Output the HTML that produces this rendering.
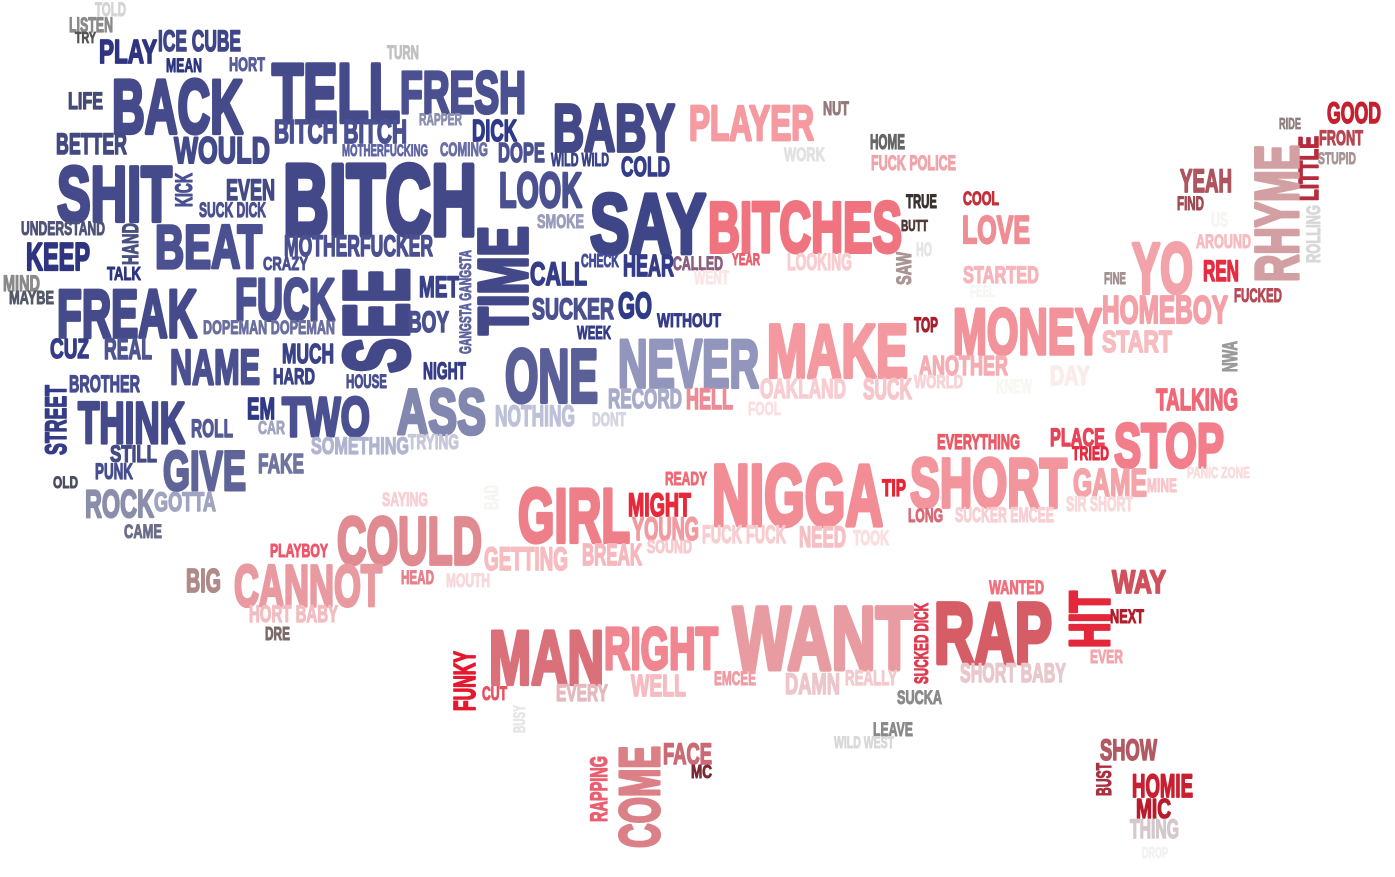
<!DOCTYPE html>
<html lang="en">
<head>
<meta charset="utf-8">
<title>Word cloud</title>
<style>
html,body{margin:0;padding:0;background:#fff;width:1395px;height:877px;overflow:hidden}
svg{display:block;filter:blur(.35px)}
text{font-family:"Liberation Sans Narrow","Liberation Sans",sans-serif;font-weight:700;fill:currentColor;stroke:currentColor;stroke-width:.055em;stroke-linejoin:round}
</style>
</head>
<body>
<svg width="1395" height="877" viewBox="0 0 1395 877" xmlns="http://www.w3.org/2000/svg">
<text x="95" y="16" font-size="19.5" textLength="31" lengthAdjust="spacingAndGlyphs" color="#d4d4d4">TOLD</text>
<text x="69" y="32" font-size="20.9" textLength="44" lengthAdjust="spacingAndGlyphs" color="#8a8a8a">LISTEN</text>
<text x="75" y="43" font-size="15.3" textLength="21" lengthAdjust="spacingAndGlyphs" color="#555555">TRY</text>
<text x="99" y="63" font-size="33.4" textLength="58" lengthAdjust="spacingAndGlyphs" color="#2f3580">PLAY</text>
<text x="158" y="51" font-size="29.2" textLength="83" lengthAdjust="spacingAndGlyphs" color="#3f4688">ICE CUBE</text>
<text x="166" y="72" font-size="19.5" textLength="36" lengthAdjust="spacingAndGlyphs" color="#2c3580">MEAN</text>
<text x="229" y="71" font-size="19.5" textLength="36" lengthAdjust="spacingAndGlyphs" color="#5a5f98">HORT</text>
<text x="68" y="109" font-size="23.6" textLength="35" lengthAdjust="spacingAndGlyphs" color="#454a78">LIFE</text>
<text x="112" y="133" font-size="76.5" textLength="131" lengthAdjust="spacingAndGlyphs" color="#454a8a">BACK</text>
<text x="272" y="122" font-size="83.4" textLength="128" lengthAdjust="spacingAndGlyphs" color="#454a8a">TELL</text>
<text x="274" y="143" font-size="33.4" textLength="133" lengthAdjust="spacingAndGlyphs" color="#4a5090">BITCH BITCH</text>
<text x="56" y="154" font-size="29.2" textLength="71" lengthAdjust="spacingAndGlyphs" color="#434a80">BETTER</text>
<text x="174" y="163" font-size="37.5" textLength="96" lengthAdjust="spacingAndGlyphs" color="#434a8a">WOULD</text>
<text x="57" y="221" font-size="77.8" textLength="115" lengthAdjust="spacingAndGlyphs" color="#454a8a">SHIT</text>
<text transform="translate(192 207) rotate(-90)" font-size="23.6" textLength="34" lengthAdjust="spacingAndGlyphs" color="#4a5090">KICK</text>
<text x="226" y="200" font-size="29.2" textLength="49" lengthAdjust="spacingAndGlyphs" color="#434a85">EVEN</text>
<text x="199" y="217" font-size="20.9" textLength="67" lengthAdjust="spacingAndGlyphs" color="#4a5090">SUCK DICK</text>
<text x="21" y="235" font-size="19.5" textLength="84" lengthAdjust="spacingAndGlyphs" color="#4f5478">UNDERSTAND</text>
<text transform="translate(138 265) rotate(-90)" font-size="22.2" textLength="42" lengthAdjust="spacingAndGlyphs" color="#4a5080">HAND</text>
<text x="155" y="268" font-size="61" textLength="107" lengthAdjust="spacingAndGlyphs" color="#4a5090">BEAT</text>
<text x="26" y="270" font-size="39" textLength="64" lengthAdjust="spacingAndGlyphs" color="#2f3580">KEEP</text>
<text x="263" y="270" font-size="18" textLength="45" lengthAdjust="spacingAndGlyphs" color="#4a5090">CRAZY</text>
<text x="283" y="235" font-size="101.5" textLength="194" lengthAdjust="spacingAndGlyphs" color="#434888">BITCH</text>
<text x="284" y="256" font-size="29.2" textLength="149" lengthAdjust="spacingAndGlyphs" color="#4a5090">MOTHERFUCKER</text>
<text x="107" y="280" font-size="18" textLength="34" lengthAdjust="spacingAndGlyphs" color="#2f3580">TALK</text>
<text x="3" y="291" font-size="22.2" textLength="37" lengthAdjust="spacingAndGlyphs" color="#8a8a8a">MIND</text>
<text x="9" y="304" font-size="18" textLength="45" lengthAdjust="spacingAndGlyphs" color="#555a68">MAYBE</text>
<text x="57" y="337" font-size="68" textLength="140" lengthAdjust="spacingAndGlyphs" color="#454a8a">FREAK</text>
<text x="235" y="320" font-size="59.8" textLength="100" lengthAdjust="spacingAndGlyphs" color="#4a5090">FUCK</text>
<text x="203" y="334" font-size="19.5" textLength="132" lengthAdjust="spacingAndGlyphs" color="#6a6fa0">DOPEMAN DOPEMAN</text>
<text x="50" y="358" font-size="27.8" textLength="39" lengthAdjust="spacingAndGlyphs" color="#353d88">CUZ</text>
<text x="104" y="359" font-size="29.2" textLength="48" lengthAdjust="spacingAndGlyphs" color="#4f5590">REAL</text>
<text x="170" y="384" font-size="48.7" textLength="90" lengthAdjust="spacingAndGlyphs" color="#4a5090">NAME</text>
<text x="282" y="363" font-size="27.8" textLength="52" lengthAdjust="spacingAndGlyphs" color="#3a4288">MUCH</text>
<text x="273" y="384" font-size="22.2" textLength="42" lengthAdjust="spacingAndGlyphs" color="#3a4288">HARD</text>
<text x="69" y="392" font-size="23.6" textLength="71" lengthAdjust="spacingAndGlyphs" color="#474d90">BROTHER</text>
<text transform="translate(66 455) rotate(-90)" font-size="29.2" textLength="70" lengthAdjust="spacingAndGlyphs" color="#353d88">STREET</text>
<text x="78" y="443" font-size="58.4" textLength="107" lengthAdjust="spacingAndGlyphs" color="#454a8a">THINK</text>
<text x="247" y="419" font-size="30.6" textLength="28" lengthAdjust="spacingAndGlyphs" color="#2f3a85">EM</text>
<text x="282" y="436" font-size="55.6" textLength="88" lengthAdjust="spacingAndGlyphs" color="#4a5090">TWO</text>
<text x="191" y="437" font-size="25" textLength="42" lengthAdjust="spacingAndGlyphs" color="#555a95">ROLL</text>
<text x="258" y="434" font-size="18" textLength="27" lengthAdjust="spacingAndGlyphs" color="#a0a4c0">CAR</text>
<text x="311" y="454" font-size="23.6" textLength="98" lengthAdjust="spacingAndGlyphs" color="#b0b4d0">SOMETHING</text>
<text x="110" y="462" font-size="23.6" textLength="47" lengthAdjust="spacingAndGlyphs" color="#444a85">STILL</text>
<text x="163" y="490" font-size="55.6" textLength="83" lengthAdjust="spacingAndGlyphs" color="#5f6498">GIVE</text>
<text x="258" y="473" font-size="27.8" textLength="46" lengthAdjust="spacingAndGlyphs" color="#70749f">FAKE</text>
<text x="95" y="479" font-size="22.2" textLength="38" lengthAdjust="spacingAndGlyphs" color="#474d90">PUNK</text>
<text x="53" y="488" font-size="16.7" textLength="25" lengthAdjust="spacingAndGlyphs" color="#4a4e60">OLD</text>
<text x="85" y="517" font-size="39" textLength="69" lengthAdjust="spacingAndGlyphs" color="#8a8eaa">ROCK</text>
<text x="154" y="511" font-size="26.4" textLength="62" lengthAdjust="spacingAndGlyphs" color="#a0a4bf">GOTTA</text>
<text x="124" y="538" font-size="19.5" textLength="38" lengthAdjust="spacingAndGlyphs" color="#6a6e88">CAME</text>
<text x="387" y="59" font-size="19.5" textLength="32" lengthAdjust="spacingAndGlyphs" color="#c0c0c0">TURN</text>
<text x="400" y="113" font-size="59.8" textLength="126" lengthAdjust="spacingAndGlyphs" color="#4a5090">FRESH</text>
<text x="419" y="125" font-size="16.7" textLength="43" lengthAdjust="spacingAndGlyphs" color="#8a8eb0">RAPPER</text>
<text x="472" y="141" font-size="30.6" textLength="45" lengthAdjust="spacingAndGlyphs" color="#2f3a88">DICK</text>
<text x="342" y="156" font-size="16.7" textLength="86" lengthAdjust="spacingAndGlyphs" color="#5f64a5">MOTHERFUCKING</text>
<text x="440" y="156" font-size="19.5" textLength="48" lengthAdjust="spacingAndGlyphs" color="#6a6fa5">COMING</text>
<text x="498" y="162" font-size="27.8" textLength="47" lengthAdjust="spacingAndGlyphs" color="#4a5090">DOPE</text>
<text x="553" y="151" font-size="66.7" textLength="122" lengthAdjust="spacingAndGlyphs" color="#434888">BABY</text>
<text x="551" y="166" font-size="18" textLength="58" lengthAdjust="spacingAndGlyphs" color="#3a4288">WILD WILD</text>
<text x="621" y="176" font-size="27.8" textLength="49" lengthAdjust="spacingAndGlyphs" color="#353d88">COLD</text>
<text x="499" y="207" font-size="48.7" textLength="83" lengthAdjust="spacingAndGlyphs" color="#4a5090">LOOK</text>
<text x="537" y="228" font-size="19.5" textLength="47" lengthAdjust="spacingAndGlyphs" color="#9a9ebc">SMOKE</text>
<text x="590" y="253" font-size="84.8" textLength="116" lengthAdjust="spacingAndGlyphs" color="#3f4688">SAY</text>
<text transform="translate(527 335) rotate(-90)" font-size="69.5" textLength="109" lengthAdjust="spacingAndGlyphs" color="#434888">TIME</text>
<text transform="translate(408 373) rotate(-90)" font-size="91.7" textLength="105" lengthAdjust="spacingAndGlyphs" color="#434888">SEE</text>
<text x="419" y="297" font-size="29.2" textLength="40" lengthAdjust="spacingAndGlyphs" color="#3a4288">MET</text>
<text transform="translate(471 354) rotate(-90)" font-size="16.7" textLength="104" lengthAdjust="spacingAndGlyphs" color="#5f64a0">GANGSTA GANGSTA</text>
<text x="408" y="332" font-size="29.2" textLength="41" lengthAdjust="spacingAndGlyphs" color="#4a5090">BOY</text>
<text x="530" y="285" font-size="32" textLength="57" lengthAdjust="spacingAndGlyphs" color="#353d88">CALL</text>
<text x="581" y="267" font-size="18" textLength="38" lengthAdjust="spacingAndGlyphs" color="#454d98">CHECK</text>
<text x="623" y="276" font-size="30.6" textLength="51" lengthAdjust="spacingAndGlyphs" color="#353d88">HEAR</text>
<text x="532" y="319" font-size="29.2" textLength="82" lengthAdjust="spacingAndGlyphs" color="#4a5090">SUCKER</text>
<text x="618" y="318" font-size="36" textLength="34" lengthAdjust="spacingAndGlyphs" color="#2f3a88">GO</text>
<text x="657" y="327" font-size="19.5" textLength="64" lengthAdjust="spacingAndGlyphs" color="#353d88">WITHOUT</text>
<text x="577" y="339" font-size="18" textLength="34" lengthAdjust="spacingAndGlyphs" color="#353d88">WEEK</text>
<text x="423" y="379" font-size="23.6" textLength="43" lengthAdjust="spacingAndGlyphs" color="#353d88">NIGHT</text>
<text x="346" y="388" font-size="19.5" textLength="41" lengthAdjust="spacingAndGlyphs" color="#4a5090">HOUSE</text>
<text x="505" y="402" font-size="75" textLength="93" lengthAdjust="spacingAndGlyphs" color="#5a5f98">ONE</text>
<text x="618" y="387" font-size="68" textLength="141" lengthAdjust="spacingAndGlyphs" color="#9296bc">NEVER</text>
<text x="608" y="408" font-size="27.8" textLength="74" lengthAdjust="spacingAndGlyphs" color="#a8acca">RECORD</text>
<text x="397" y="434" font-size="64" textLength="89" lengthAdjust="spacingAndGlyphs" color="#8287b0">ASS</text>
<text x="495" y="426" font-size="29.2" textLength="80" lengthAdjust="spacingAndGlyphs" color="#bfc1d8">NOTHING</text>
<text x="592" y="426" font-size="19.5" textLength="34" lengthAdjust="spacingAndGlyphs" color="#d4d5e2">DONT</text>
<text x="408" y="449" font-size="20.9" textLength="51" lengthAdjust="spacingAndGlyphs" color="#c6c8da">TRYING</text>
<text x="518" y="542" font-size="76.5" textLength="112" lengthAdjust="spacingAndGlyphs" color="#ee7f88">GIRL</text>
<text x="382" y="506" font-size="19.5" textLength="46" lengthAdjust="spacingAndGlyphs" color="#f8cfd2">SAYING</text>
<text transform="translate(498 510) rotate(-90)" font-size="19.5" textLength="25" lengthAdjust="spacingAndGlyphs" color="#f3f6f3">BAD</text>
<text x="337" y="564" font-size="66.7" textLength="145" lengthAdjust="spacingAndGlyphs" color="#e08a92">COULD</text>
<text x="628" y="516" font-size="32" textLength="63" lengthAdjust="spacingAndGlyphs" color="#e62a3c">MIGHT</text>
<text x="665" y="485" font-size="18" textLength="42" lengthAdjust="spacingAndGlyphs" color="#f06a75">READY</text>
<text x="632" y="540" font-size="32" textLength="67" lengthAdjust="spacingAndGlyphs" color="#f19aa0">YOUNG</text>
<text x="647" y="553" font-size="18" textLength="45" lengthAdjust="spacingAndGlyphs" color="#f8c8cc">SOUND</text>
<text x="484" y="570" font-size="32" textLength="84" lengthAdjust="spacingAndGlyphs" color="#f6bcc0">GETTING</text>
<text x="582" y="565" font-size="30.6" textLength="60" lengthAdjust="spacingAndGlyphs" color="#f6b8be">BREAK</text>
<text x="270" y="557" font-size="18" textLength="58" lengthAdjust="spacingAndGlyphs" color="#f0566a">PLAYBOY</text>
<text x="234" y="606" font-size="58.4" textLength="148" lengthAdjust="spacingAndGlyphs" color="#e89aa0">CANNOT</text>
<text x="186" y="592" font-size="33.4" textLength="35" lengthAdjust="spacingAndGlyphs" color="#b08a88">BIG</text>
<text x="401" y="584" font-size="19.5" textLength="33" lengthAdjust="spacingAndGlyphs" color="#e8808c">HEAD</text>
<text x="446" y="587" font-size="19.5" textLength="44" lengthAdjust="spacingAndGlyphs" color="#f8d8da">MOUTH</text>
<text x="249" y="622" font-size="23.6" textLength="89" lengthAdjust="spacingAndGlyphs" color="#f2bcc0">HORT BABY</text>
<text x="265" y="640" font-size="18" textLength="25" lengthAdjust="spacingAndGlyphs" color="#7a6a6a">DRE</text>
<text x="689" y="140" font-size="48.7" textLength="125" lengthAdjust="spacingAndGlyphs" color="#f49aa0">PLAYER</text>
<text x="823" y="115" font-size="19.5" textLength="26" lengthAdjust="spacingAndGlyphs" color="#947a7a">NUT</text>
<text x="784" y="161" font-size="19.5" textLength="41" lengthAdjust="spacingAndGlyphs" color="#e2e2e2">WORK</text>
<text x="870" y="149" font-size="20.9" textLength="35" lengthAdjust="spacingAndGlyphs" color="#666666">HOME</text>
<text x="871" y="170" font-size="20.9" textLength="85" lengthAdjust="spacingAndGlyphs" color="#f0a5aa">FUCK POLICE</text>
<text x="906" y="208" font-size="19.5" textLength="31" lengthAdjust="spacingAndGlyphs" color="#3a3030">TRUE</text>
<text x="963" y="205" font-size="19.5" textLength="36" lengthAdjust="spacingAndGlyphs" color="#c23038">COOL</text>
<text x="708" y="252" font-size="71" textLength="194" lengthAdjust="spacingAndGlyphs" color="#ef7480">BITCHES</text>
<text x="901" y="231" font-size="15.3" textLength="27" lengthAdjust="spacingAndGlyphs" color="#503a3a">BUTT</text>
<text x="962" y="243" font-size="39" textLength="68" lengthAdjust="spacingAndGlyphs" color="#ef8d95">LOVE</text>
<text x="916" y="256" font-size="19.5" textLength="16" lengthAdjust="spacingAndGlyphs" color="#e5e5e5">HO</text>
<text transform="translate(911 285) rotate(-90)" font-size="20.9" textLength="33" lengthAdjust="spacingAndGlyphs" color="#aa9595">SAW</text>
<text x="673" y="270" font-size="19.5" textLength="50" lengthAdjust="spacingAndGlyphs" color="#8a5f80">CALLED</text>
<text x="732" y="265" font-size="16.7" textLength="28" lengthAdjust="spacingAndGlyphs" color="#ea5e6c">YEAR</text>
<text x="787" y="270" font-size="23.6" textLength="65" lengthAdjust="spacingAndGlyphs" color="#f9cdd2">LOOKING</text>
<text x="694" y="284" font-size="19.5" textLength="35" lengthAdjust="spacingAndGlyphs" color="#fae6e6">WENT</text>
<text x="963" y="283" font-size="23.6" textLength="76" lengthAdjust="spacingAndGlyphs" color="#f6b5ba">STARTED</text>
<text x="970" y="297" font-size="16.7" textLength="25" lengthAdjust="spacingAndGlyphs" color="#f5f7f5">FEEL</text>
<text x="914" y="332" font-size="20.9" textLength="24" lengthAdjust="spacingAndGlyphs" color="#a81e2c">TOP</text>
<text x="767" y="377" font-size="75" textLength="141" lengthAdjust="spacingAndGlyphs" color="#f3999f">MAKE</text>
<text x="953" y="354" font-size="65.3" textLength="149" lengthAdjust="spacingAndGlyphs" color="#f2939b">MONEY</text>
<text x="919" y="375" font-size="27.8" textLength="89" lengthAdjust="spacingAndGlyphs" color="#f4adb2">ANOTHER</text>
<text x="914" y="388" font-size="18" textLength="49" lengthAdjust="spacingAndGlyphs" color="#f7d3d6">WORLD</text>
<text x="760" y="398" font-size="27.8" textLength="86" lengthAdjust="spacingAndGlyphs" color="#f8cdd1">OAKLAND</text>
<text x="863" y="399" font-size="29.2" textLength="49" lengthAdjust="spacingAndGlyphs" color="#f6c6cb">SUCK</text>
<text x="996" y="393" font-size="19.5" textLength="36" lengthAdjust="spacingAndGlyphs" color="#f8f7f2">KNEW</text>
<text x="686" y="409" font-size="29.2" textLength="47" lengthAdjust="spacingAndGlyphs" color="#ec8a96">HELL</text>
<text x="748" y="415" font-size="18" textLength="33" lengthAdjust="spacingAndGlyphs" color="#fbe0e2">FOOL</text>
<text x="937" y="449" font-size="20.9" textLength="83" lengthAdjust="spacingAndGlyphs" color="#ec5a68">EVERYTHING</text>
<text x="712" y="525" font-size="86.2" textLength="171" lengthAdjust="spacingAndGlyphs" color="#f28d95">NIGGA</text>
<text x="882" y="496" font-size="23.6" textLength="24" lengthAdjust="spacingAndGlyphs" color="#e62535">TIP</text>
<text x="910" y="507" font-size="69.5" textLength="157" lengthAdjust="spacingAndGlyphs" color="#f3959c">SHORT</text>
<text x="908" y="522" font-size="19.5" textLength="35" lengthAdjust="spacingAndGlyphs" color="#d86a78">LONG</text>
<text x="955" y="522" font-size="20.9" textLength="99" lengthAdjust="spacingAndGlyphs" color="#f8d0d4">SUCKER EMCEE</text>
<text x="702" y="543" font-size="25" textLength="84" lengthAdjust="spacingAndGlyphs" color="#f8cdd0">FUCK FUCK</text>
<text x="799" y="547" font-size="29.2" textLength="47" lengthAdjust="spacingAndGlyphs" color="#f6bfc4">NEED</text>
<text x="853" y="545" font-size="20.9" textLength="36" lengthAdjust="spacingAndGlyphs" color="#fbdfe0">TOOK</text>
<text x="1327" y="123" font-size="29.2" textLength="54" lengthAdjust="spacingAndGlyphs" color="#c42030">GOOD</text>
<text x="1279" y="129" font-size="15.3" textLength="22" lengthAdjust="spacingAndGlyphs" color="#907f7f">RIDE</text>
<text x="1319" y="145" font-size="20.9" textLength="44" lengthAdjust="spacingAndGlyphs" color="#b84650">FRONT</text>
<text transform="translate(1318 201) rotate(-90)" font-size="27.8" textLength="65" lengthAdjust="spacingAndGlyphs" color="#b52d3c">LITTLE</text>
<text x="1318" y="164" font-size="16.7" textLength="38" lengthAdjust="spacingAndGlyphs" color="#a89595">STUPID</text>
<text transform="translate(1298 282) rotate(-90)" font-size="61" textLength="137" lengthAdjust="spacingAndGlyphs" color="#d2a0a2">RHYME</text>
<text x="1180" y="192" font-size="32" textLength="52" lengthAdjust="spacingAndGlyphs" color="#ae5560">YEAH</text>
<text x="1177" y="210" font-size="19.5" textLength="27" lengthAdjust="spacingAndGlyphs" color="#a04a55">FIND</text>
<text x="1211" y="227" font-size="20.9" textLength="17" lengthAdjust="spacingAndGlyphs" color="#f5f5f3">US</text>
<text transform="translate(1320 263) rotate(-90)" font-size="19.5" textLength="58" lengthAdjust="spacingAndGlyphs" color="#d8d8d8">ROLLING</text>
<text x="1196" y="248" font-size="19.5" textLength="55" lengthAdjust="spacingAndGlyphs" color="#f8bcc0">AROUND</text>
<text x="1132" y="293" font-size="71" textLength="61" lengthAdjust="spacingAndGlyphs" color="#f2a3aa">YO</text>
<text x="1203" y="281" font-size="29.2" textLength="36" lengthAdjust="spacingAndGlyphs" color="#e62c40">REN</text>
<text x="1104" y="284" font-size="16.7" textLength="22" lengthAdjust="spacingAndGlyphs" color="#a09090">FINE</text>
<text x="1234" y="302" font-size="19.5" textLength="48" lengthAdjust="spacingAndGlyphs" color="#b84a58">FUCKED</text>
<text x="1102" y="323" font-size="39" textLength="126" lengthAdjust="spacingAndGlyphs" color="#f3a0a8">HOMEBOY</text>
<text x="1102" y="352" font-size="30.6" textLength="70" lengthAdjust="spacingAndGlyphs" color="#f6bcc0">START</text>
<text transform="translate(1237 372) rotate(-90)" font-size="20.9" textLength="31" lengthAdjust="spacingAndGlyphs" color="#9a9a9a">NWA</text>
<text x="1050" y="385" font-size="27.8" textLength="40" lengthAdjust="spacingAndGlyphs" color="#fbebeb">DAY</text>
<text x="1156" y="410" font-size="30.6" textLength="82" lengthAdjust="spacingAndGlyphs" color="#ef6878">TALKING</text>
<text x="1050" y="446" font-size="25" textLength="55" lengthAdjust="spacingAndGlyphs" color="#e64458">PLACE</text>
<text x="1072" y="460" font-size="19.5" textLength="37" lengthAdjust="spacingAndGlyphs" color="#e62a40">TRIED</text>
<text x="1114" y="467" font-size="62.6" textLength="110" lengthAdjust="spacingAndGlyphs" color="#f17e8a">STOP</text>
<text x="1073" y="496" font-size="39" textLength="74" lengthAdjust="spacingAndGlyphs" color="#f4a3a9">GAME</text>
<text x="1147" y="492" font-size="19.5" textLength="30" lengthAdjust="spacingAndGlyphs" color="#f9c5c9">MINE</text>
<text x="1187" y="478" font-size="15.3" textLength="63" lengthAdjust="spacingAndGlyphs" color="#f9dcde">PANIC ZONE</text>
<text x="1066" y="511" font-size="20.9" textLength="67" lengthAdjust="spacingAndGlyphs" color="#f8d8da">SIR SHORT</text>
<text x="1112" y="593" font-size="32" textLength="54" lengthAdjust="spacingAndGlyphs" color="#d0505c">WAY</text>
<text x="1110" y="623" font-size="19.5" textLength="34" lengthAdjust="spacingAndGlyphs" color="#b01c2c">NEXT</text>
<text transform="translate(1109 648) rotate(-90)" font-size="57" textLength="57" lengthAdjust="spacingAndGlyphs" color="#e2283a">HIT</text>
<text x="1090" y="663" font-size="18" textLength="33" lengthAdjust="spacingAndGlyphs" color="#f4a5ac">EVER</text>
<text x="489" y="684" font-size="76.5" textLength="115" lengthAdjust="spacingAndGlyphs" color="#d9707a">MAN</text>
<text x="604" y="669" font-size="59.8" textLength="114" lengthAdjust="spacingAndGlyphs" color="#f08790">RIGHT</text>
<text x="733" y="669" font-size="89" textLength="180" lengthAdjust="spacingAndGlyphs" color="#e89ca2">WANT</text>
<text transform="translate(475 711) rotate(-90)" font-size="30.6" textLength="60" lengthAdjust="spacingAndGlyphs" color="#e6182e">FUNKY</text>
<text x="482" y="700" font-size="19.5" textLength="25" lengthAdjust="spacingAndGlyphs" color="#e85063">CUT</text>
<text x="556" y="701" font-size="23.6" textLength="52" lengthAdjust="spacingAndGlyphs" color="#e5b9bf">EVERY</text>
<text x="631" y="696" font-size="30.6" textLength="55" lengthAdjust="spacingAndGlyphs" color="#f6bcc2">WELL</text>
<text x="714" y="685" font-size="19.5" textLength="42" lengthAdjust="spacingAndGlyphs" color="#f09ca3">EMCEE</text>
<text transform="translate(525 733) rotate(-90)" font-size="16.7" textLength="28" lengthAdjust="spacingAndGlyphs" color="#e6e6e6">BUSY</text>
<text x="663" y="764" font-size="29.2" textLength="49" lengthAdjust="spacingAndGlyphs" color="#c96a75">FACE</text>
<text x="691" y="778" font-size="18" textLength="21" lengthAdjust="spacingAndGlyphs" color="#7a2a34">MC</text>
<text transform="translate(607 822) rotate(-90)" font-size="23.6" textLength="66" lengthAdjust="spacingAndGlyphs" color="#ea5f70">RAPPING</text>
<text transform="translate(659 848) rotate(-90)" font-size="57" textLength="102" lengthAdjust="spacingAndGlyphs" color="#dc8088">COME</text>
<text x="989" y="594" font-size="19.5" textLength="55" lengthAdjust="spacingAndGlyphs" color="#f0727e">WANTED</text>
<text transform="translate(928 684) rotate(-90)" font-size="19.5" textLength="81" lengthAdjust="spacingAndGlyphs" color="#e03a50">SUCKED DICK</text>
<text x="934" y="663" font-size="86.2" textLength="118" lengthAdjust="spacingAndGlyphs" color="#d65c66">RAP</text>
<text x="785" y="694" font-size="29.2" textLength="55" lengthAdjust="spacingAndGlyphs" color="#ecc6ca">DAMN</text>
<text x="845" y="685" font-size="20.9" textLength="52" lengthAdjust="spacingAndGlyphs" color="#f5c8cc">REALLY</text>
<text x="960" y="682" font-size="26.4" textLength="106" lengthAdjust="spacingAndGlyphs" color="#e8c8cc">SHORT BABY</text>
<text x="897" y="704" font-size="19.5" textLength="45" lengthAdjust="spacingAndGlyphs" color="#8a8a8a">SUCKA</text>
<text x="873" y="736" font-size="19.5" textLength="40" lengthAdjust="spacingAndGlyphs" color="#8a8a8a">LEAVE</text>
<text x="834" y="748" font-size="16.7" textLength="60" lengthAdjust="spacingAndGlyphs" color="#d8d8d8">WILD WEST</text>
<text x="1100" y="760" font-size="29.2" textLength="57" lengthAdjust="spacingAndGlyphs" color="#b25a64">SHOW</text>
<text transform="translate(1111 796) rotate(-90)" font-size="20.9" textLength="33" lengthAdjust="spacingAndGlyphs" color="#a83040">BUST</text>
<text x="1132" y="797" font-size="32" textLength="61" lengthAdjust="spacingAndGlyphs" color="#c82030">HOMIE</text>
<text x="1136" y="818" font-size="27.8" textLength="35" lengthAdjust="spacingAndGlyphs" color="#b81c2c">MIC</text>
<text x="1130" y="838" font-size="26.4" textLength="49" lengthAdjust="spacingAndGlyphs" color="#d4c8cc">THING</text>
<text x="1142" y="858" font-size="15.3" textLength="26" lengthAdjust="spacingAndGlyphs" color="#f2f2f2">DROP</text>
</svg>
</body>
</html>
